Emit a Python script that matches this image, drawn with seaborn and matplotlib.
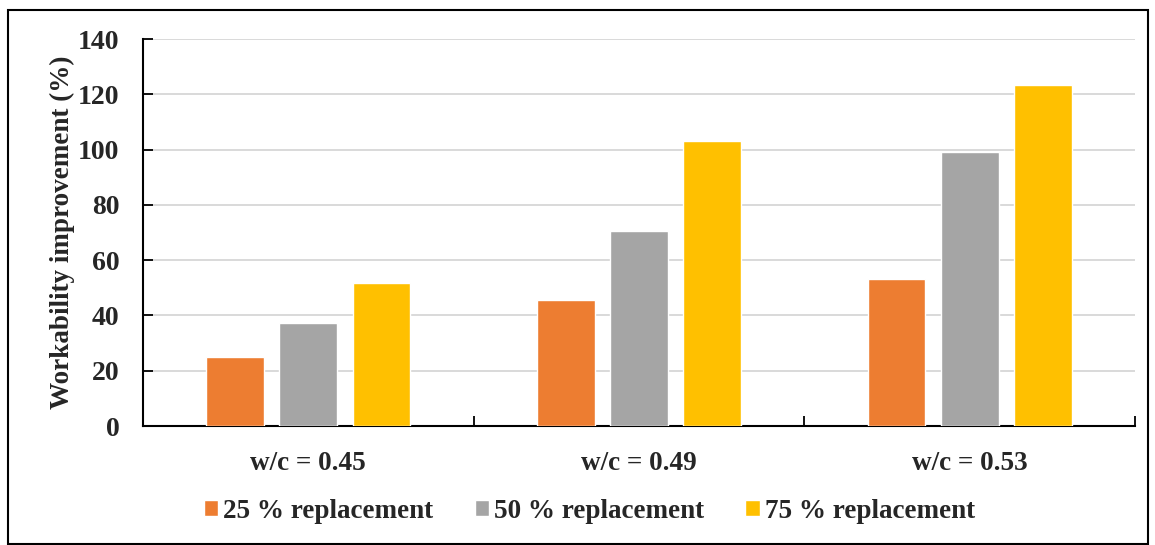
import matplotlib
matplotlib.use("Agg")
import matplotlib.pyplot as plt
from matplotlib.patches import Rectangle
import pandas as pd
import seaborn as sns

# Workability improvement for each w/c ratio and replacement level
categories = ["w/c = 0.45", "w/c = 0.49", "w/c = 0.53"]
series_names = ["25 % replacement", "50 % replacement", "75 % replacement"]
repl_25 = [24.8, 45.6, 53.3]
repl_50 = [37.2, 70.5, 99.0]
repl_75 = [51.7, 103.1, 123.2]
y_ticks = [0, 20, 40, 60, 80, 100, 120, 140]
colors = ["#ED7D31", "#A5A5A5", "#FFC000"]

rows = []
for name, vals in zip(series_names, [repl_25, repl_50, repl_75]):
    for cat, v in zip(categories, vals):
        rows.append({"category": cat, "series": name, "value": v})
df = pd.DataFrame(rows)

sns.set_theme(style="white")
plt.rcParams["font.family"] = ["Liberation Serif", "DejaVu Serif"]
plt.rcParams["font.weight"] = "bold"

W, H = 1155, 545
fig = plt.figure(figsize=(W / 100, H / 100), dpi=100)
ax = fig.add_axes([143 / W, (H - 426) / H, (1135 - 143) / W, (426 - 39) / H])

sns.barplot(data=df, x="category", y="value", hue="series", order=categories,
            hue_order=series_names, palette=colors, width=0.663, gap=0.21,
            saturation=1, errorbar=None, ax=ax, zorder=3)

ax.set_xlim(-0.5, 2.5)
ax.set_ylim(0, 140)
ax.set_yticks(y_ticks)
ax.set_yticklabels([str(t) for t in y_ticks], fontsize=20, fontweight="bold")
ax.yaxis.grid(True, color="#D9D9D9", linewidth=1.4, zorder=0)
ax.set_axisbelow(True)

# category labels at centres, separator ticks at boundaries
ax.set_xticks(range(len(categories)))
ax.set_xticklabels(categories, fontsize=19.5, fontweight="bold")
ax.set_xticks([0.5, 1.5, 2.5], minor=True)
ax.tick_params(axis="x", which="major", length=0, pad=18)
ax.tick_params(axis="x", which="minor", direction="in", length=7, width=1.3,
               color="black", bottom=True)
ax.tick_params(axis="y", direction="in", length=7, width=1.3, color="black",
               pad=17, left=True)

ax.set_xlabel("")
ax.set_ylabel("Workability improvement (%)", fontsize=19.5, fontweight="bold",
              labelpad=2)

for side in ["top", "right"]:
    ax.spines[side].set_visible(False)
for side in ["left", "bottom"]:
    ax.spines[side].set_color("black")
    ax.spines[side].set_linewidth(1.5)

handles, labels = ax.get_legend_handles_labels()
ax.legend(handles, labels, loc="center",
          bbox_to_anchor=(589.5 / W, (H - 511) / H),
          bbox_transform=fig.transFigure, ncol=3, frameon=False,
          prop={"family": "Liberation Serif", "weight": "bold", "size": 19.5},
          handlelength=0.52, handleheight=0.5, handletextpad=0.2,
          columnspacing=1.52)

# outer frame
fig.add_artist(Rectangle((8 / W, 1 / H), (1148 - 8) / W, (H - 10 - 1) / H,
                         transform=fig.transFigure, fill=False,
                         edgecolor="black", linewidth=1.5))

fig.savefig("out.png", dpi=100)
